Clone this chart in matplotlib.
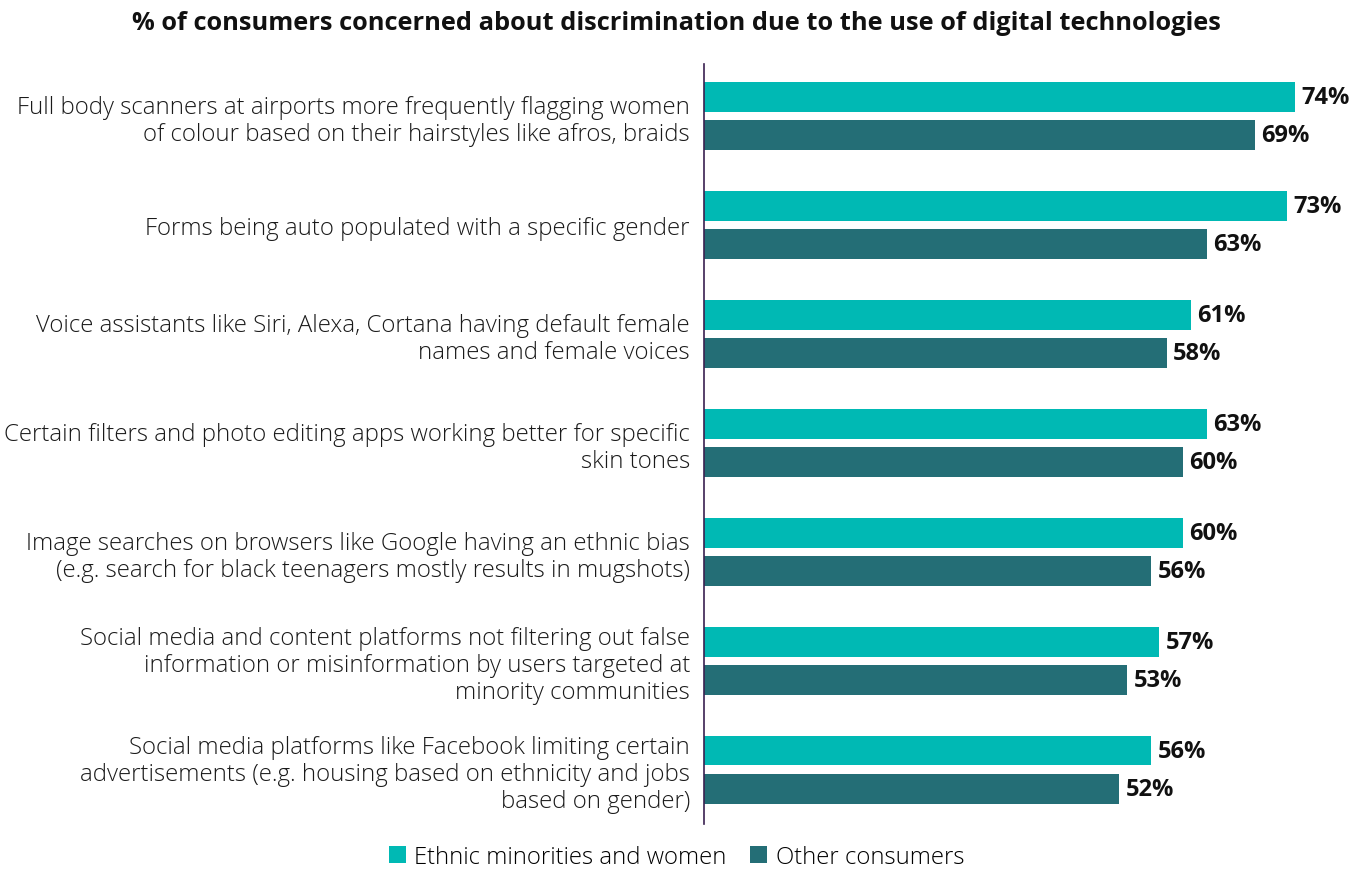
import matplotlib.pyplot as plt
import numpy as np

plt.rcParams['font.family'] = ['Open Sans', 'DejaVu Sans']

categories = [
    "Full body scanners at airports more frequently flagging women\nof colour based on their hairstyles like afros, braids",
    "Forms being auto populated with a specific gender",
    "Voice assistants like Siri, Alexa, Cortana having default female\nnames and female voices",
    "Certain filters and photo editing apps working better for specific\nskin tones",
    "Image searches on browsers like Google having an ethnic bias\n(e.g. search for black teenagers mostly results in mugshots)",
    "Social media and content platforms not filtering out false\ninformation or misinformation by users targeted at\nminority communities",
    "Social media platforms like Facebook limiting certain\nadvertisements (e.g. housing based on ethnicity and jobs\nbased on gender)",
]
ethnic_women = [74, 73, 61, 63, 60, 57, 56]
other = [69, 63, 58, 60, 56, 53, 52]
series_names = ["Ethnic minorities and women", "Other consumers"]

c1 = '#00B9B4'
c2 = '#246E76'

fig = plt.figure(figsize=(13.64, 8.7), dpi=100)
ax = fig.add_axes([0.516, 0.0517, 0.48, 0.8736])

y = np.arange(len(categories))
h = 0.275
b1 = ax.barh(y - 0.175, ethnic_women, height=h, color=c1, label=series_names[0])
b2 = ax.barh(y + 0.175, other, height=h, color=c2, label=series_names[1])

for bars, vals in [(b1, ethnic_women), (b2, other)]:
    for bar, v in zip(bars, vals):
        ax.text(v + 0.8, bar.get_y() + bar.get_height() / 2, f"{v}%",
                va='center', ha='left', fontsize=17, fontweight='bold', color='#111111')

ax.set_xlim(0, 82)
ax.set_ylim(6.5, -0.48)
ax.set_yticks(y)
ax.set_yticklabels(categories, fontsize=17.3, color='#1a1a1a', linespacing=1.15,
                   fontweight='light')
ax.tick_params(axis='y', length=0, pad=10)
ax.set_xticks([])
for s in ['top', 'right', 'bottom']:
    ax.spines[s].set_visible(False)
ax.spines['left'].set_color('#3A2050')
ax.spines['left'].set_linewidth(1.2)

fig.text(0.496, 0.973, "% of consumers concerned about discrimination due to the use of digital technologies",
         ha='center', va='center', fontsize=18.3, fontweight='bold', color='#111111')

fig.legend(handles=[b1, b2], loc='center', bbox_to_anchor=(0.496, 0.014), ncol=2,
           frameon=False, prop={'weight': 'light', 'size': 17.2},
           handlelength=0.7, handleheight=0.7,
           handletextpad=0.35, columnspacing=1.0, borderaxespad=0)

fig.savefig('out.png', dpi=100)
